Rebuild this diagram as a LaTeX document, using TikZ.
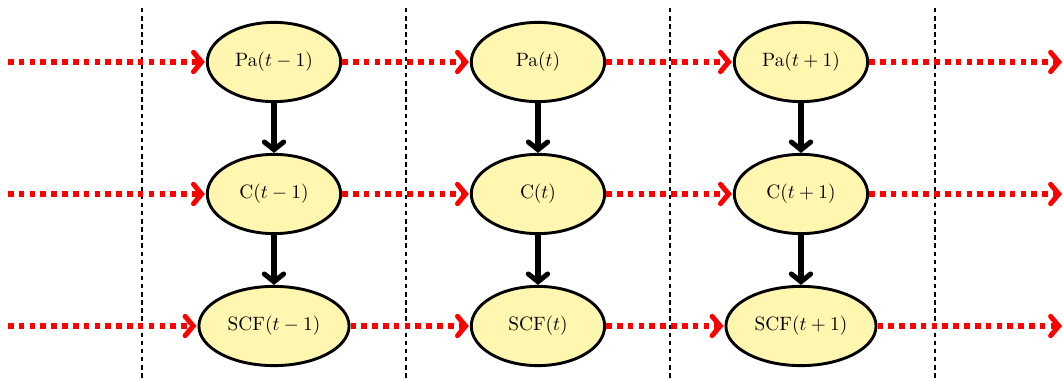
\documentclass[tikz,border=0pt]{standalone}
\usetikzlibrary{arrows.meta,shapes.geometric}
\definecolor{nodefill}{RGB}{255,246,176}
\tikzset{
  x=0.5174pt, y=-0.5174pt,
  state/.style={ellipse, draw=black, line width=1.5pt, fill=nodefill,
    minimum width=69pt, minimum height=41pt, inner sep=3.5pt},
  temporal/.style={draw=red, line width=2.6pt, dash pattern=on 2.9pt off 2.7pt,
    -{Straight Barb[length=4.2pt,width=10pt,line cap=round]}, shorten >=0.5pt},
  causal/.style={draw=black, line width=2.6pt,
    -{Straight Barb[length=4pt,width=10pt,line cap=round]}},
  slice/.style={draw=black, line width=1.2pt, dash pattern=on 2.3pt off 1.9pt}
}
\begin{document}
\begin{tikzpicture}
\useasboundingbox (0,0) rectangle (1063,381);

% time-slice separators
\foreach \x/\n in {142/s0,406/s1,670/s2,935/s3} {
  \coordinate (\n t) at (\x,8);
  \coordinate (\n b) at (\x,381);
  \draw[slice] (\n t) -- (\n b);
}

% nodes of the three time slices
\node[state] (pa0) at (274,62)  {Pa$(t-1)$};
\node[state] (c0)  at (274,194) {C$(t-1)$};
\node[state] (s0)  at (274,326) {SCF$(t-1)$};
\node[state] (pa1) at (538,62)  {Pa$(t)$};
\node[state] (c1)  at (538,194) {C$(t)$};
\node[state] (s1)  at (538,326) {SCF$(t)$};
\node[state] (pa2) at (801,62)  {Pa$(t+1)$};
\node[state] (c2)  at (801,194) {C$(t+1)$};
\node[state] (s2)  at (801,326) {SCF$(t+1)$};

% free ends of the temporal links
\coordinate (inpa) at (8,62);
\coordinate (inc)  at (8,194);
\coordinate (ins)  at (8,326);
\coordinate (outpa) at (1063,62);
\coordinate (outc)  at (1063,194);
\coordinate (outs)  at (1063,326);

% within-slice dependencies
\foreach \i in {0,1,2} {
  \draw[causal] (pa\i) -- (c\i);
  \draw[causal] (c\i) -- (s\i);
}

% links between consecutive slices
\foreach \r in {pa,c,s} {
  \draw[temporal] (in\r) -- (\r0);
  \draw[temporal] (\r0) -- (\r1);
  \draw[temporal] (\r1) -- (\r2);
  \draw[temporal] (\r2) -- (out\r);
}
\end{tikzpicture}
\end{document}
